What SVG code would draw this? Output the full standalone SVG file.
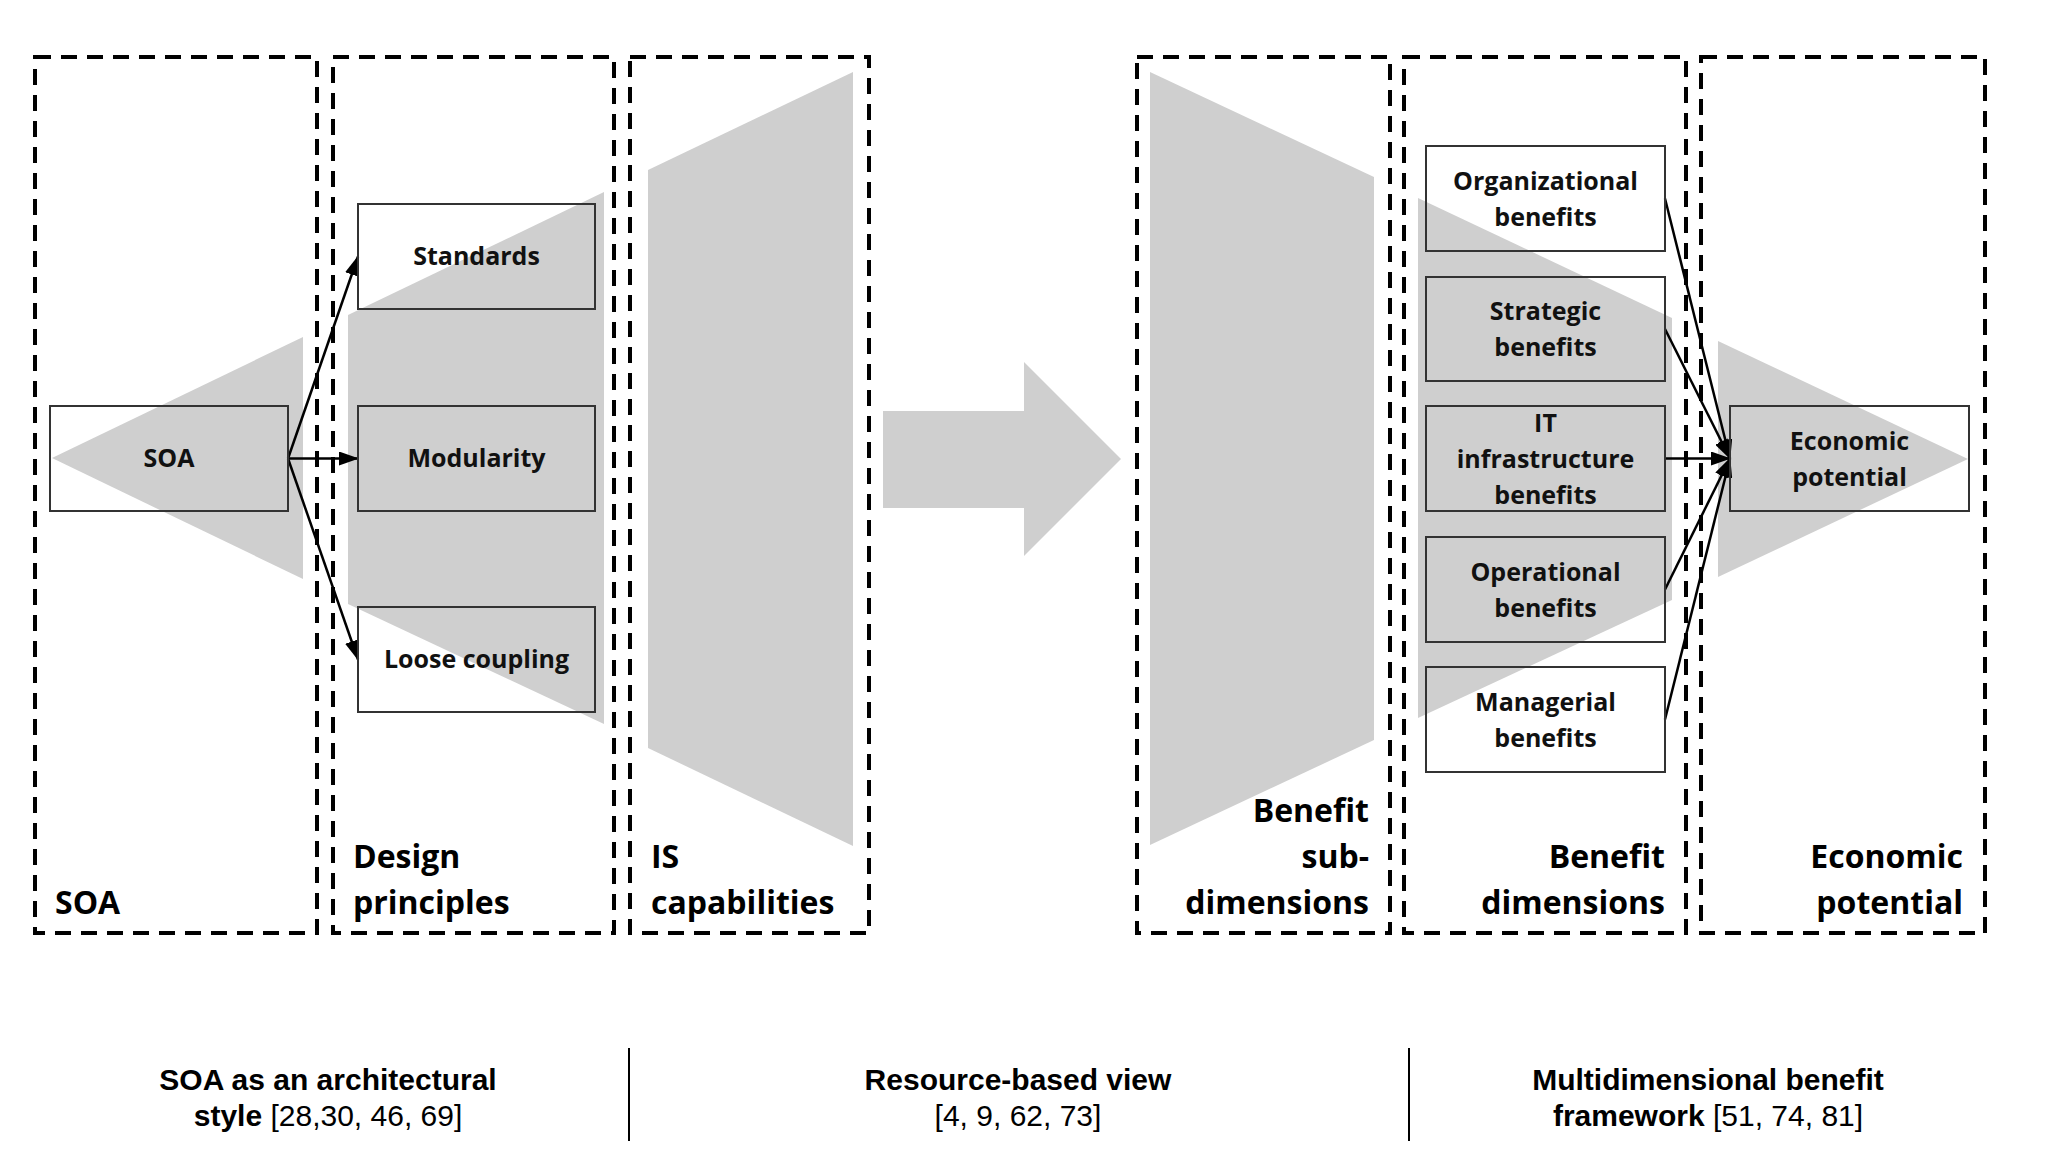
<svg xmlns="http://www.w3.org/2000/svg" width="2054" height="1170" viewBox="0 0 2054 1170">
<style>
.frame{fill:none;stroke:#000;stroke-width:4;stroke-dasharray:16 10}
.shape{fill:#cfcfcf}
.box{fill:none;stroke:#333;stroke-width:2}
.nt{font-family:"Open Sans","Noto Sans",sans-serif;font-weight:700;font-size:25px;fill:#111;text-anchor:middle}
.ct{font-family:"Open Sans","Noto Sans",sans-serif;font-weight:700;font-size:32px;fill:#000}
.ctr{text-anchor:end}
.cap{font-family:"Liberation Sans",Arial,sans-serif;font-size:30px;fill:#000;text-anchor:middle}
.b{font-weight:700}
.conn line{stroke:#000;stroke-width:2.5;marker-end:url(#ah)}
.div{stroke:#000;stroke-width:2}
</style>
<defs>
<marker id="ah" viewBox="0 0 20 14" markerWidth="20" markerHeight="14" refX="19" refY="7" markerUnits="userSpaceOnUse" orient="auto">
<path d="M0,0 L20,7 L0,14 z" fill="#000"/>
</marker>
</defs>
<rect width="2054" height="1170" fill="#fff"/>

<g id="shapes">
<polygon class="shape" points="52,458 303,337 303,579"/>
<polygon class="shape" points="348,315 604,192 604,724 348,604"/>
<polygon class="shape" points="648,170 853,72 853,846 648,748"/>
<polygon class="shape" points="883,411 1024,411 1024,362 1121,459 1024,556 1024,508 883,508"/>
<polygon class="shape" points="1150,72 1374,177 1374,740 1150,845"/>
<polygon class="shape" points="1418,198 1672,318 1672,600 1418,718"/>
<polygon class="shape" points="1718,341 1968,459 1718,577"/>
</g>

<g id="frames">
<g id="col-soa"><rect class="frame" x="35" y="57" width="282" height="876"/><text class="ct" x="55" y="914">SOA</text></g>
<g id="col-design"><rect class="frame" x="333" y="57" width="281" height="876"/><text class="ct" x="353" y="868">Design</text><text class="ct" x="353" y="914">principles</text></g>
<g id="col-is"><rect class="frame" x="630" y="57" width="239" height="876"/><text class="ct" x="651" y="868">IS</text><text class="ct" x="651" y="914">capabilities</text></g>
<g id="col-sub"><rect class="frame" x="1137" y="57" width="253" height="876"/><text class="ct ctr" x="1369" y="822">Benefit</text><text class="ct ctr" x="1369" y="868">sub-</text><text class="ct ctr" x="1369" y="914">dimensions</text></g>
<g id="col-dim"><rect class="frame" x="1404" y="57" width="282" height="876"/><text class="ct ctr" x="1665" y="868">Benefit</text><text class="ct ctr" x="1665" y="914">dimensions</text></g>
<g id="col-econ"><rect class="frame" x="1701" y="57" width="284" height="876"/><text class="ct ctr" x="1963" y="868">Economic</text><text class="ct ctr" x="1963" y="914">potential</text></g>
</g>

<g id="connectors" class="conn">
<line x1="288" y1="458.5" x2="358" y2="256.5"/>
<line x1="288" y1="458.5" x2="358" y2="458.5"/>
<line x1="288" y1="458.5" x2="358" y2="659.5"/>
<line x1="1665" y1="198.5" x2="1730" y2="458.5"/>
<line x1="1665" y1="329" x2="1730" y2="458.5"/>
<line x1="1665" y1="458.5" x2="1730" y2="458.5"/>
<line x1="1665" y1="589.5" x2="1730" y2="458.5"/>
<line x1="1665" y1="719.5" x2="1730" y2="458.5"/>
</g>

<g id="node-soa"><rect class="box" x="50" y="406" width="238" height="105"/><text class="nt" x="169" y="467">SOA</text></g>
<g id="node-standards"><rect class="box" x="358" y="204" width="237" height="105"/><text class="nt" x="476.5" y="265">Standards</text></g>
<g id="node-modularity"><rect class="box" x="358" y="406" width="237" height="105"/><text class="nt" x="476.5" y="467">Modularity</text></g>
<g id="node-loose"><rect class="box" x="358" y="607" width="237" height="105"/><text class="nt" x="476.5" y="668">Loose coupling</text></g>

<g id="node-org"><rect class="box" x="1426" y="146" width="239" height="105"/><text class="nt" x="1545.5" y="190">Organizational</text><text class="nt" x="1545.5" y="226">benefits</text></g>
<g id="node-strat"><rect class="box" x="1426" y="277" width="239" height="104"/><text class="nt" x="1545.5" y="320">Strategic</text><text class="nt" x="1545.5" y="356">benefits</text></g>
<g id="node-it"><rect class="box" x="1426" y="406" width="239" height="105"/><text class="nt" x="1545.5" y="432">IT</text><text class="nt" x="1545.5" y="468">infrastructure</text><text class="nt" x="1545.5" y="504">benefits</text></g>
<g id="node-oper"><rect class="box" x="1426" y="537" width="239" height="105"/><text class="nt" x="1545.5" y="581">Operational</text><text class="nt" x="1545.5" y="617">benefits</text></g>
<g id="node-mgr"><rect class="box" x="1426" y="667" width="239" height="105"/><text class="nt" x="1545.5" y="711">Managerial</text><text class="nt" x="1545.5" y="747">benefits</text></g>
<g id="node-econ"><rect class="box" x="1730" y="406" width="239" height="105"/><text class="nt" x="1849.5" y="450">Economic</text><text class="nt" x="1849.5" y="486">potential</text></g>

<g id="captions">
<text class="cap b" x="328" y="1090">SOA as an architectural</text>
<text class="cap" x="328" y="1126"><tspan class="b">style</tspan> [28,30, 46, 69]</text>
<line class="div" x1="629" y1="1048" x2="629" y2="1141"/>
<text class="cap b" x="1018" y="1090">Resource-based view</text>
<text class="cap" x="1018" y="1126">[4, 9, 62, 73]</text>
<line class="div" x1="1409" y1="1048" x2="1409" y2="1141"/>
<text class="cap b" x="1708" y="1090">Multidimensional benefit</text>
<text class="cap" x="1708" y="1126"><tspan class="b">framework</tspan> [51, 74, 81]</text>
</g>
</svg>
